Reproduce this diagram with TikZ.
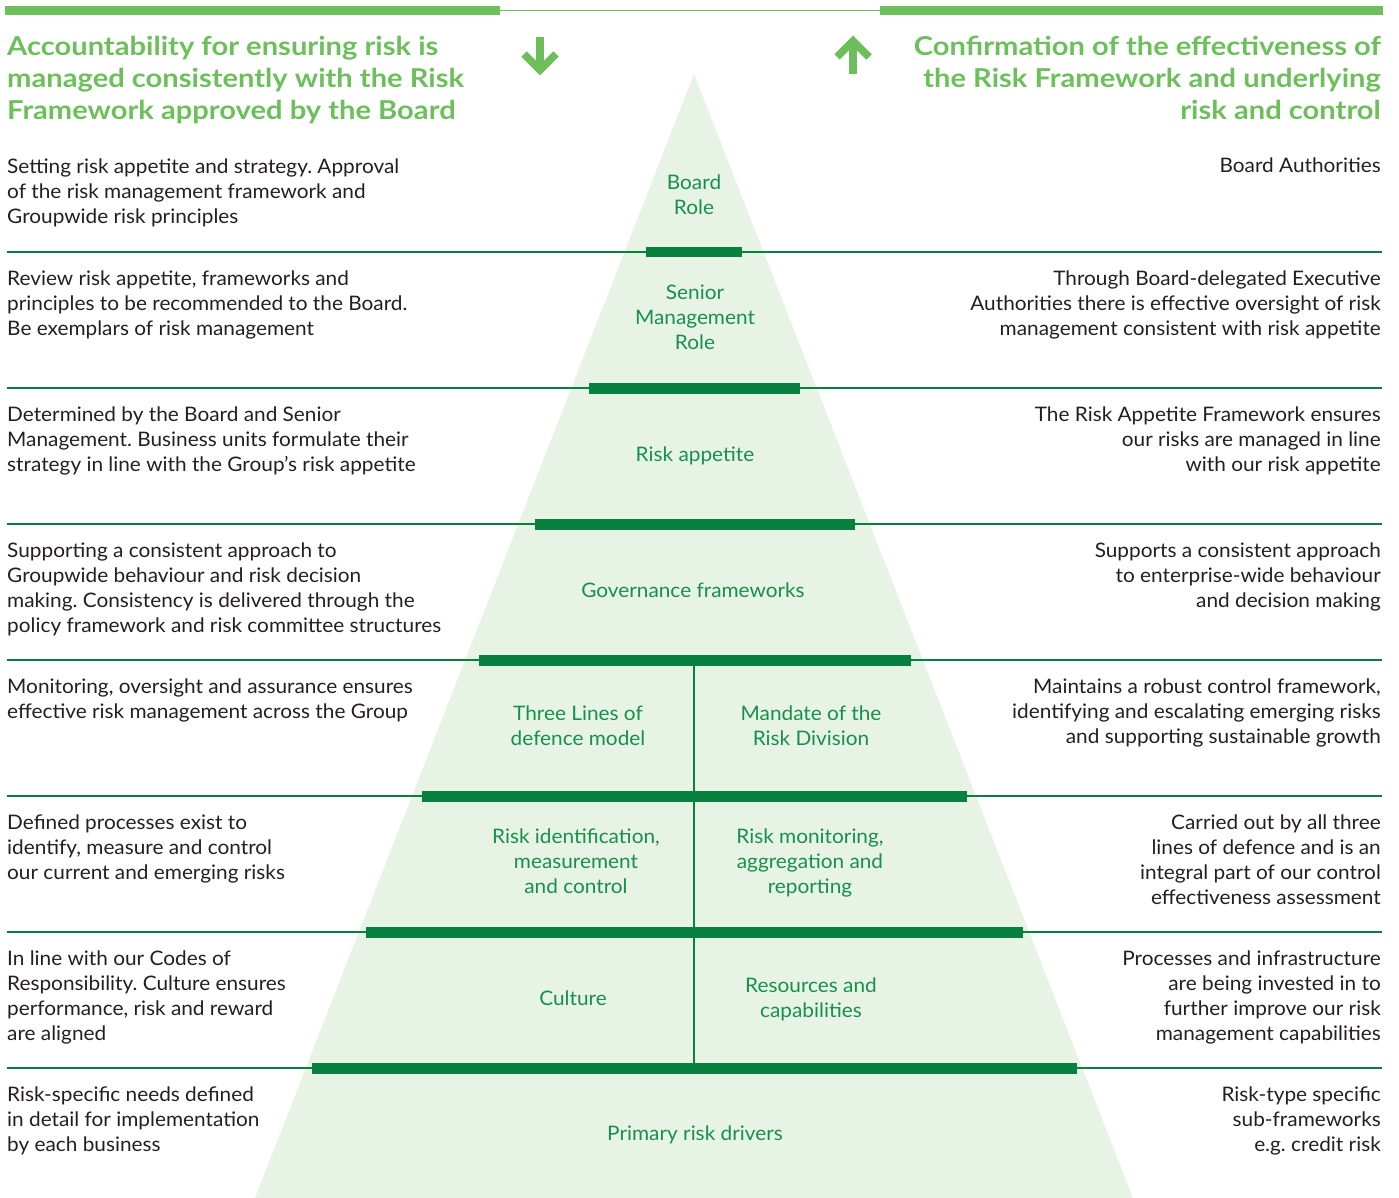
\documentclass[tikz,border=0pt]{standalone}
\usepackage{fontspec}
\setmainfont{Lato}[FakeStretch=1.04]
\newfontfamily\headfont{Lato}[FakeStretch=1.12]
\definecolor{headgreen}{HTML}{6CBF5A}
\definecolor{bargreen}{HTML}{08803F}
\definecolor{labgreen}{HTML}{17904D}
\definecolor{trifill}{HTML}{E7F3E5}
\definecolor{bodytext}{HTML}{231F20}
\tikzset{
  body/.style={inner sep=0pt, text=bodytext, font=\fontsize{20}{25}\selectfont},
  lefttext/.style={body, anchor=north west, align=left},
  righttext/.style={body, anchor=north east, align=right},
  tlabel/.style={inner sep=0pt, anchor=north, align=center, text=labgreen, font=\fontsize{20}{25}\selectfont},
  heading/.style={inner sep=0pt, text=headgreen, font=\headfont\bfseries\fontsize{26}{32}\selectfont},
  bar/.style={fill=bargreen},
  rule/.style={draw=bargreen, line width=1.3pt},
  arrowpart/.style={draw=headgreen, line width=7.5pt}
}
\begin{document}
\frenchspacing
\begin{tikzpicture}[x=1pt,y=-1pt]
\useasboundingbox (0,0) rectangle (1399,1198);
% top bars
\fill[headgreen] (5,6) rectangle (500,15);
\fill[headgreen] (880,6) rectangle (1383,15);
\draw[headgreen, line width=1.5pt] (500,10.5) -- (880,10.5);
% arrows
\draw[arrowpart] (540,37) -- (540,66);
\draw[arrowpart, miter limit=10] (524,54) -- (540,70) -- (556,54);
\draw[arrowpart] (853,74) -- (853,45);
\draw[arrowpart, miter limit=10] (837,57) -- (853,41) -- (869,57);
% headings
\node[heading, anchor=north west, align=left] (hl) at (7,35.5)
  {Accountability for ensuring risk is\\managed consistently with the Risk\\Framework approved by the Board};
\node[heading, anchor=north east, align=right] (hr) at (1381,35.5)
  {Confirmation of the effectiveness of\\the Risk Framework and underlying\\risk and control};
% triangle
\fill[trifill] (694,74) -- (1133,1198) -- (255,1198) -- cycle;
% rules
\foreach \y in {252,388,524,660,796,932,1068}{
  \draw[rule] (7,\y) -- (1382,\y);
}
\draw[draw=bargreen, line width=1.5pt] (694,660) -- (694,1068);
% bars
\fill[bar] (646,247) rectangle (742,257.5);
\fill[bar] (589,383) rectangle (800,393.5);
\fill[bar] (535,519) rectangle (855,529.5);
\fill[bar] (479,655) rectangle (911,665.5);
\fill[bar] (422,791) rectangle (967,801.5);
\fill[bar] (366,927) rectangle (1023,937.5);
\fill[bar] (312,1063) rectangle (1077,1073.5);
% triangle labels
\node[tlabel] (t1) at (694,175) {Board\\Role};
\node[tlabel] (t2) at (695,285) {Senior\\Management\\Role};
\node[tlabel] (t3) at (695,447) {Risk appetite};
\node[tlabel] (t4) at (693,583) {Governance frameworks};
\node[tlabel] (t5a) at (578,706) {Three Lines of\\defence model};
\node[tlabel] (t5b) at (811,706) {Mandate of the\\Risk Division};
\node[tlabel] (t6a) at (576,829) {Risk identification,\\measurement\\and control};
\node[tlabel] (t6b) at (810,829) {Risk monitoring,\\aggregation and\\reporting};
\node[tlabel] (t7a) at (573,991) {Culture};
\node[tlabel] (t7b) at (811,978) {Resources and\\capabilities};
\node[tlabel] (t8) at (695,1126) {Primary risk drivers};
% left texts
\node[lefttext] (l1) at (7,158.5) {Setting risk appetite and strategy. Approval\\of the risk management framework and\\Groupwide risk principles};
\node[lefttext] (l2) at (7,270.5) {Review risk appetite, frameworks and\\principles to be recommended to the Board.\\Be exemplars of risk management};
\node[lefttext] (l3) at (7,406.5) {Determined by the Board and Senior\\Management. Business units formulate their\\strategy in line with the Group’s risk appetite};
\node[lefttext] (l4) at (7,542.5) {Supporting a consistent approach to\\Groupwide behaviour and risk decision\\making. Consistency is delivered through the\\policy framework and risk committee structures};
\node[lefttext] (l5) at (7,678.5) {Monitoring, oversight and assurance ensures\\effective risk management across the Group};
\node[lefttext] (l6) at (7,814.5) {Defined processes exist to\\identify, measure and control\\our current and emerging risks};
\node[lefttext] (l7) at (7,950.5) {In line with our Codes of\\Responsibility. Culture ensures\\performance, risk and reward\\are aligned};
\node[lefttext] (l8) at (7,1086.5) {Risk-specific needs defined\\in detail for implementation\\by each business};
% right texts
\node[righttext] (r1) at (1381,157.5) {Board Authorities};
\node[righttext] (r2) at (1381,270.5) {Through Board-delegated Executive\\Authorities there is effective oversight of risk\\management consistent with risk appetite};
\node[righttext] (r3) at (1381,406.5) {The Risk Appetite Framework ensures\\our risks are managed in line\\with our risk appetite};
\node[righttext] (r4) at (1381,542.5) {Supports a consistent approach\\to enterprise-wide behaviour\\and decision making};
\node[righttext] (r5) at (1381,678.5) {Maintains a robust control framework,\\identifying and escalating emerging risks\\and supporting sustainable growth};
\node[righttext] (r6) at (1381,814.5) {Carried out by all three\\lines of defence and is an\\integral part of our control\\effectiveness assessment};
\node[righttext] (r7) at (1381,950.5) {Processes and infrastructure\\are being invested in to\\further improve our risk\\management capabilities};
\node[righttext] (r8) at (1381,1086.5) {Risk-type specific\\sub-frameworks\\e.g. credit risk};
\end{tikzpicture}
\end{document}
